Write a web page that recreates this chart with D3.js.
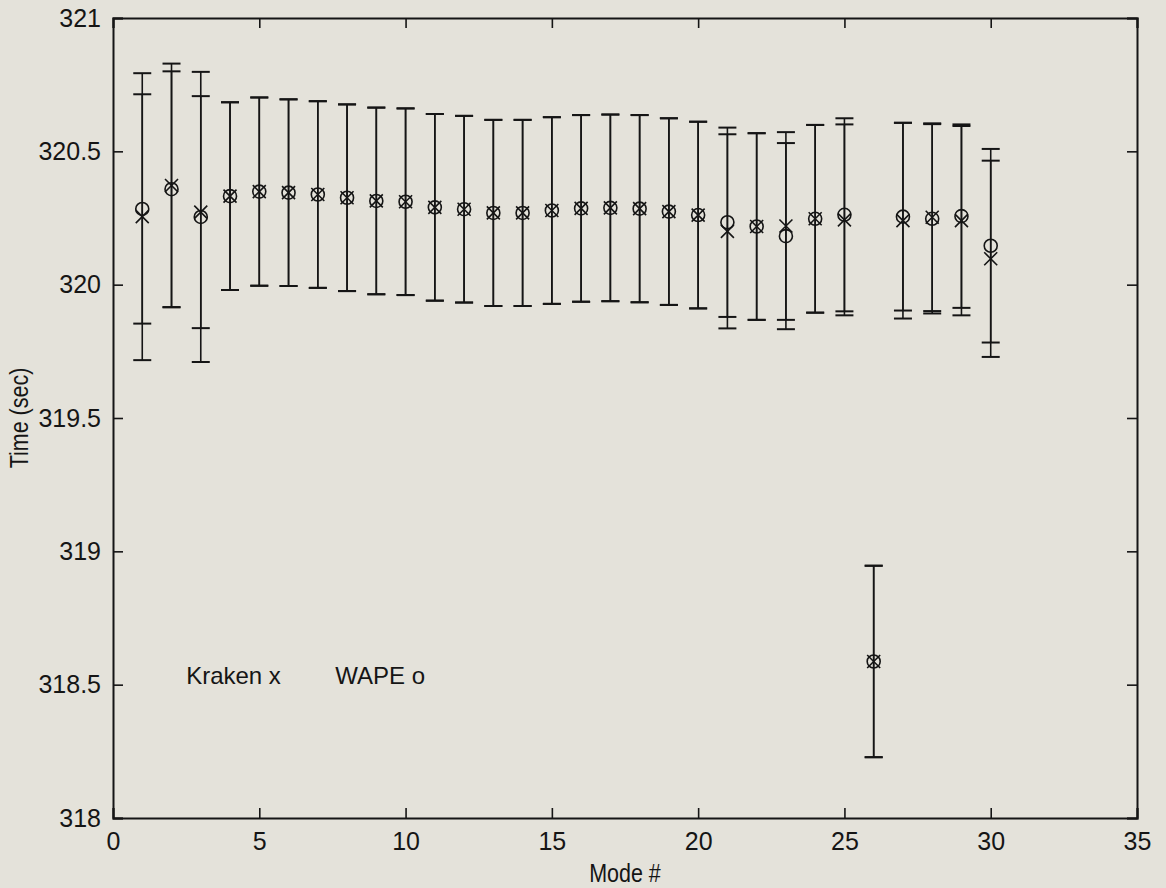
<!DOCTYPE html>
<html>
<head>
<meta charset="utf-8">
<script src="https://cdn.jsdelivr.net/npm/d3@7"></script>
<style>
  html, body { margin: 0; padding: 0; background: #e4e2da; }
  svg { display: block; }
  text { font-family: "Liberation Sans", Arial, Helvetica, sans-serif; fill: #151515; }
</style>
</head>
<body>
<svg id="chart" width="1166" height="888"></svg>
<script>
// Arrival time per mode: mean and error half-width for each model
const modes = d3.range(1, 31);
const krakenMean = [320.255, 320.372, 320.272, 320.332, 320.349, 320.345, 320.338, 320.326, 320.314, 320.311,
                    320.290, 320.283, 320.269, 320.269, 320.278, 320.286, 320.288, 320.285, 320.274, 320.261,
                    320.200, 320.218, 320.220, 320.247, 320.243, 318.587, 320.240, 320.253, 320.240, 320.097];
const krakenErr  = [0.538, 0.457, 0.435, 0.352, 0.353, 0.350, 0.350, 0.350, 0.350, 0.350,
                    0.350, 0.350, 0.349, 0.349, 0.350, 0.350, 0.350, 0.351, 0.350, 0.350,
                    0.364, 0.350, 0.352, 0.352, 0.358, 0.359, 0.367, 0.352, 0.355, 0.368];
const wapeMean   = [320.284, 320.358, 320.254, 320.332, 320.349, 320.345, 320.338, 320.326, 320.314, 320.311,
                    320.290, 320.283, 320.269, 320.269, 320.278, 320.286, 320.288, 320.285, 320.274, 320.261,
                    320.234, 320.218, 320.182, 320.247, 320.262, 318.587, 320.255, 320.247, 320.257, 320.146];
const wapeErr    = [0.430, 0.442, 0.544, 0.352, 0.353, 0.350, 0.350, 0.350, 0.350, 0.350,
                    0.350, 0.350, 0.349, 0.349, 0.350, 0.350, 0.350, 0.351, 0.350, 0.350,
                    0.355, 0.350, 0.349, 0.352, 0.362, 0.359, 0.352, 0.355, 0.344, 0.363];

const xTicks = [0, 5, 10, 15, 20, 25, 30, 35];
const yTicks = [318, 318.5, 319, 319.5, 320, 320.5, 321];
const legendLabels = [{ x: 2.5, text: "Kraken x" }, { x: 7.6, text: "WAPE o" }];

const svg = d3.select("#chart");
const margin = { left: 113, right: 29, top: 18, bottom: 70 };
const W = 1166, H = 888;
const x = d3.scaleLinear().domain([0, 35]).range([margin.left, W - margin.right]);
const y = d3.scaleLinear().domain([318, 321]).range([H - margin.bottom, margin.top]);

const ink = "#151515";
const tickLen = 10;

// Axes with inward ticks on all four sides
const gx = svg.append("g").attr("transform", `translate(0,${y(318)})`)
  .call(d3.axisBottom(x).tickValues(xTicks).tickSize(-tickLen).tickPadding(14).tickFormat(d3.format("d")));
const gxTop = svg.append("g").attr("transform", `translate(0,${y(321)})`)
  .call(d3.axisTop(x).tickValues(xTicks).tickSize(-tickLen).tickFormat(""));
const gy = svg.append("g").attr("transform", `translate(${x(0)},0)`)
  .call(d3.axisLeft(y).tickValues(yTicks).tickSize(-tickLen).tickPadding(12).tickFormat(d => String(d)));
const gyRight = svg.append("g").attr("transform", `translate(${x(35)},0)`)
  .call(d3.axisRight(y).tickValues(yTicks).tickSize(-tickLen).tickFormat(""));

[gx, gxTop, gy, gyRight].forEach(g => {
  g.select(".domain").attr("stroke", ink).attr("stroke-width", 2);
  g.selectAll(".tick line").attr("stroke", ink).attr("stroke-width", 1.6);
  g.selectAll("text").attr("font-size", 25).attr("fill", ink)
    .attr("font-family", "'Liberation Sans', Arial, sans-serif");
});

// Axis titles (condensed lettering)
svg.append("text")
  .attr("transform", `translate(${x(17.5)},882) scale(0.86,1)`)
  .attr("text-anchor", "middle")
  .attr("font-size", 25)
  .text("Mode #");

svg.append("text")
  .attr("transform", `translate(28,${y(319.5)}) rotate(-90) scale(0.86,1)`)
  .attr("text-anchor", "middle")
  .attr("font-size", 25)
  .text("Time (sec)");

// Error bars for both models
const capHalf = 9;
function errorBars(means, errs, cls) {
  const rows = modes.map((m, i) => ({ m, lo: means[i] - errs[i], hi: means[i] + errs[i] }));
  const g = svg.append("g").attr("class", cls).attr("stroke", ink).attr("stroke-width", 1.6).attr("fill", "none");
  g.selectAll("line.stem").data(rows).join("line").attr("class", "stem")
    .attr("x1", d => x(d.m)).attr("x2", d => x(d.m))
    .attr("y1", d => y(d.lo)).attr("y2", d => y(d.hi));
  g.selectAll("line.capHi").data(rows).join("line").attr("class", "capHi")
    .attr("x1", d => x(d.m) - capHalf).attr("x2", d => x(d.m) + capHalf)
    .attr("y1", d => y(d.hi)).attr("y2", d => y(d.hi)).attr("stroke-width", 2);
  g.selectAll("line.capLo").data(rows).join("line").attr("class", "capLo")
    .attr("x1", d => x(d.m) - capHalf).attr("x2", d => x(d.m) + capHalf)
    .attr("y1", d => y(d.lo)).attr("y2", d => y(d.lo)).attr("stroke-width", 2);
}
errorBars(krakenMean, krakenErr, "kraken-err");
errorBars(wapeMean, wapeErr, "wape-err");

// WAPE markers: circles
svg.append("g").selectAll("circle").data(modes).join("circle")
  .attr("cx", m => x(m)).attr("cy", (m, i) => y(wapeMean[i]))
  .attr("r", 6.5).attr("fill", "none").attr("stroke", ink).attr("stroke-width", 1.6);

// Kraken markers: crosses
const xs = 6.5;
svg.append("g").selectAll("path").data(modes).join("path")
  .attr("d", (m, i) => {
    const cx = x(m), cy = y(krakenMean[i]);
    return `M${cx - xs},${cy - xs}L${cx + xs},${cy + xs}M${cx - xs},${cy + xs}L${cx + xs},${cy - xs}`;
  })
  .attr("fill", "none").attr("stroke", ink).attr("stroke-width", 1.6);

// In-plot legend text
svg.append("g").selectAll("text").data(legendLabels).join("text")
  .attr("x", d => x(d.x)).attr("y", y(318.5) - 1)
  .attr("font-size", 24)
  .text(d => d.text);
</script>
</body>
</html>
